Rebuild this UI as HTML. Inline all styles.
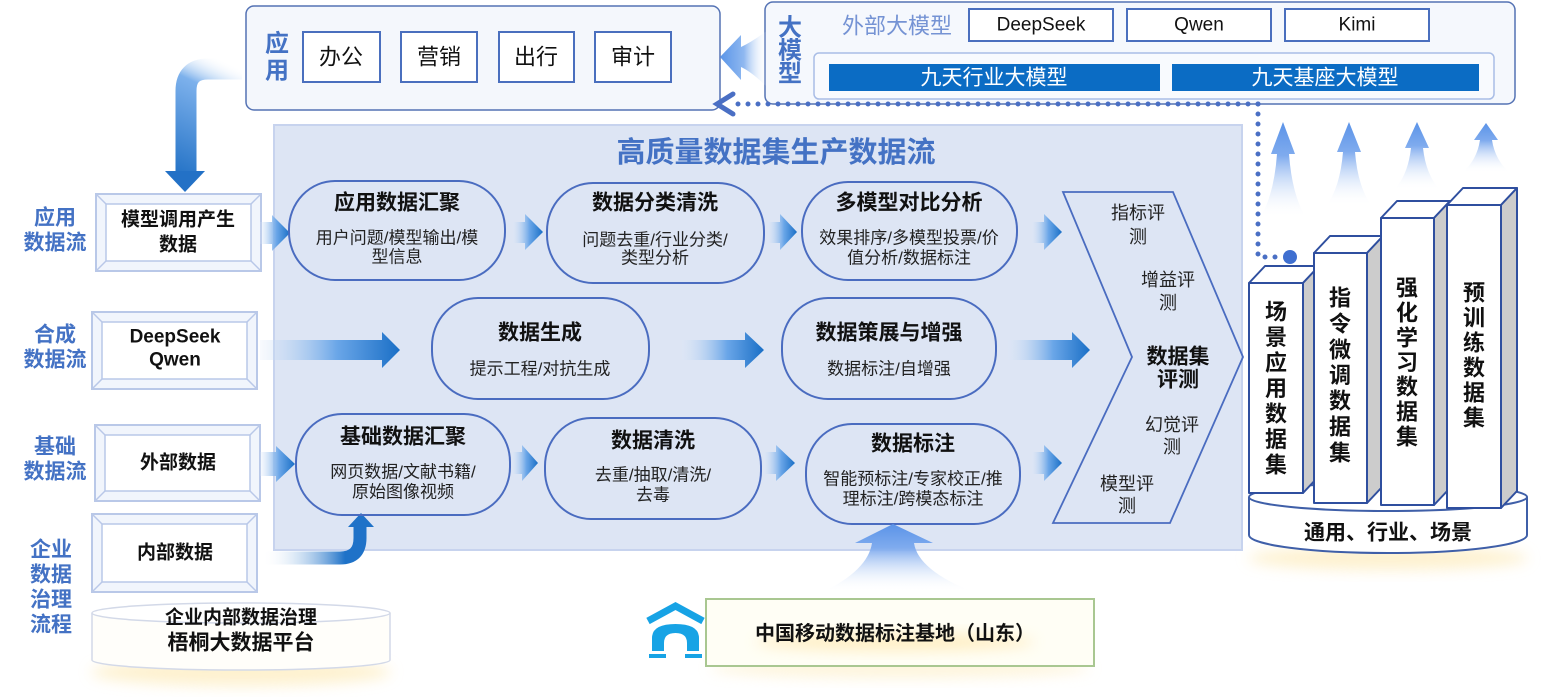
<!DOCTYPE html>
<html><head><meta charset="utf-8">
<style>
html,body{margin:0;padding:0;background:#fff;}
svg{display:block;font-family:"Liberation Sans","Noto Sans CJK SC","WenQuanYi Zen Hei",sans-serif;}
.t{text-anchor:middle;dominant-baseline:central;}
.lbl{font-size:21px;font-weight:bold;fill:#4472c4;}
.bx{font-size:19px;font-weight:bold;fill:#111;}
.pt{font-size:21px;font-weight:bold;fill:#111;}
.ps{font-size:17px;fill:#222;}
.cv{font-size:18px;fill:#222;}
</style></head>
<body>
<svg width="1545" height="697" viewBox="0 0 1545 697" xmlns="http://www.w3.org/2000/svg">
<defs>
  <linearGradient id="gR" x1="0" y1="0" x2="1" y2="0">
    <stop offset="0" stop-color="#dbe7f8" stop-opacity="0.2"/>
    <stop offset="0.55" stop-color="#6aa6e8"/>
    <stop offset="1" stop-color="#1a6fc6"/>
  </linearGradient>
  <linearGradient id="gU" x1="0" y1="0" x2="0" y2="1">
    <stop offset="0" stop-color="#5b93e8"/>
    <stop offset="0.35" stop-color="#7fabee"/>
    <stop offset="1" stop-color="#ffffff" stop-opacity="0"/>
  </linearGradient>
  <linearGradient id="gL" x1="0" y1="0" x2="1" y2="0">
    <stop offset="0" stop-color="#5a95e8"/>
    <stop offset="0.5" stop-color="#8fb8f0"/>
    <stop offset="1" stop-color="#ffffff" stop-opacity="0"/>
  </linearGradient>
  <linearGradient id="gTL" gradientUnits="userSpaceOnUse" x1="242" y1="69" x2="186" y2="185">
    <stop offset="0" stop-color="#ffffff" stop-opacity="0"/>
    <stop offset="0.25" stop-color="#7db1ec"/>
    <stop offset="1" stop-color="#1f6fc4"/>
  </linearGradient>
  <linearGradient id="gBL" gradientUnits="userSpaceOnUse" x1="262" y1="558" x2="345" y2="558">
    <stop offset="0" stop-color="#ffffff" stop-opacity="0"/>
    <stop offset="1" stop-color="#1f72c8"/>
  </linearGradient>
  <filter id="blur" x="-50%" y="-50%" width="200%" height="200%"><feGaussianBlur stdDeviation="7"/></filter>
</defs>

<rect width="1545" height="697" fill="#fff"/>

<!-- glows -->
<ellipse cx="241" cy="672" rx="150" ry="14" fill="#fde6a8" opacity="0.55" filter="url(#blur)"/>
<ellipse cx="1388" cy="558" rx="140" ry="12" fill="#fde6a8" opacity="0.55" filter="url(#blur)"/>
<ellipse cx="900" cy="668" rx="190" ry="10" fill="#fdeab8" opacity="0.5" filter="url(#blur)"/>

<!-- main panel -->
<rect x="274" y="125" width="968" height="425" fill="#dde5f4" stroke="#c7d3ee" stroke-width="2"/>
<text class="t" x="776" y="153" style="font-size:29px;font-weight:bold;fill:#4472c4;">高质量数据集生产数据流</text>

<!-- App box -->
<rect x="246" y="6" width="474" height="104" rx="8" fill="#f4f7fc" stroke="#5472b4" stroke-width="1.5"/>
<text class="t" x="277" y="44" style="font-size:24px;font-weight:bold;fill:#4472c4;">应</text>
<text class="t" x="277" y="71" style="font-size:24px;font-weight:bold;fill:#4472c4;">用</text>
<g fill="#fff" stroke="#4a6fbe" stroke-width="2">
  <rect x="303" y="32" width="77" height="50"/>
  <rect x="401" y="32" width="76" height="50"/>
  <rect x="499" y="32" width="75" height="50"/>
  <rect x="595" y="32" width="76" height="50"/>
</g>
<g style="font-size:22px;fill:#111;">
  <text class="t" x="341" y="57">办公</text>
  <text class="t" x="439" y="57">营销</text>
  <text class="t" x="536" y="57">出行</text>
  <text class="t" x="633" y="57">审计</text>
</g>

<!-- Big model box -->
<rect x="765" y="2" width="750" height="102" rx="8" fill="#f5f8fd" stroke="#5472b4" stroke-width="1.5"/>
<text class="t" x="790" y="28" style="font-size:24px;font-weight:bold;fill:#4472c4;">大</text>
<text class="t" x="790" y="51" style="font-size:24px;font-weight:bold;fill:#4472c4;">模</text>
<text class="t" x="790" y="74" style="font-size:24px;font-weight:bold;fill:#4472c4;">型</text>
<text class="t" x="897" y="26" style="font-size:22px;fill:#7593d4;">外部大模型</text>
<g fill="#fff" stroke="#4a6fbe" stroke-width="2">
  <rect x="969" y="9" width="144" height="32"/>
  <rect x="1127" y="9" width="144" height="32"/>
  <rect x="1285" y="9" width="144" height="32"/>
</g>
<g style="font-size:19px;fill:#111;">
  <text class="t" x="1041" y="25">DeepSeek</text>
  <text class="t" x="1199" y="25">Qwen</text>
  <text class="t" x="1357" y="25">Kimi</text>
</g>
<rect x="814" y="53" width="680" height="46" rx="5" fill="#f8fafe" stroke="#a9bde6" stroke-width="1.5"/>
<rect x="829" y="64" width="331" height="27" fill="#0b6cc4"/>
<rect x="1172" y="64" width="307" height="27" fill="#0b6cc4"/>
<text class="t" x="994" y="78" style="font-size:21px;fill:#fff;">九天行业大模型</text>
<text class="t" x="1325" y="78" style="font-size:21px;fill:#fff;">九天基座大模型</text>

<!-- big left arrow (model -> app) -->
<path d="M720 57 L741 35 L741 47 Q752 42 768 30 L768 88 Q752 72 741 67 L741 80 Z" fill="url(#gL)"/>

<!-- dotted connector -->
<g stroke="#4a6fc4" stroke-width="5" stroke-linecap="round" fill="none">
  <path d="M1258 104 H728" stroke-dasharray="0 10"/>
  <path d="M1258 104 V257 H1280" stroke-dasharray="0 10"/>
  <polyline points="733,94 717,104 733,114"/>
</g>
<circle cx="1290" cy="257" r="7" fill="#3f6fd0"/>

<!-- top-left curved arrow -->
<path d="M242 69 H208 Q186 69 186 91 V173" stroke="url(#gTL)" stroke-width="21" fill="none"/>
<polygon points="165,171 205,171 185,192" fill="#2371c6"/>

<!-- bottom-left curved arrow -->
<path d="M262 558 H340 Q360 558 360 538 V526" stroke="url(#gBL)" stroke-width="13" fill="none"/>
<polygon points="348,527 374,527 361,513" fill="#1f72c8"/>

<!-- left labels -->
<text class="t lbl" x="55" y="218">应用</text>
<text class="t lbl" x="55" y="243">数据流</text>
<text class="t lbl" x="55" y="335">合成</text>
<text class="t lbl" x="55" y="360">数据流</text>
<text class="t lbl" x="55" y="447">基础</text>
<text class="t lbl" x="55" y="472">数据流</text>
<text class="t lbl" x="51" y="550">企业</text>
<text class="t lbl" x="51" y="575">数据</text>
<text class="t lbl" x="51" y="600">治理</text>
<text class="t lbl" x="51" y="625">流程</text>

<!-- bevel boxes -->
<g stroke="#b9c8e8" fill="none">
  <rect x="96" y="194" width="165" height="77" fill="#f1f5fc" stroke-width="2"/>
  <rect x="106" y="204" width="145" height="57" fill="#fff" stroke-width="1.5"/>
  <path d="M96 194 L106 204 M261 194 L251 204 M96 271 L106 261 M261 271 L251 261" stroke-width="1.5"/>

  <rect x="92" y="312" width="165" height="77" fill="#f1f5fc" stroke-width="2"/>
  <rect x="102" y="322" width="145" height="57" fill="#fff" stroke-width="1.5"/>
  <path d="M92 312 L102 322 M257 312 L247 322 M92 389 L102 379 M257 389 L247 379" stroke-width="1.5"/>

  <rect x="95" y="425" width="165" height="76" fill="#f1f5fc" stroke-width="2"/>
  <rect x="105" y="435" width="145" height="56" fill="#fff" stroke-width="1.5"/>
  <path d="M95 425 L105 435 M260 425 L250 435 M95 501 L105 491 M260 501 L250 491" stroke-width="1.5"/>

  <rect x="92" y="514" width="165" height="78" fill="#f1f5fc" stroke-width="2"/>
  <rect x="102" y="524" width="145" height="58" fill="#fff" stroke-width="1.5"/>
  <path d="M92 514 L102 524 M257 514 L247 524 M92 592 L102 582 M257 592 L247 582" stroke-width="1.5"/>
</g>
<text class="t bx" x="178" y="220">模型调用产生</text>
<text class="t bx" x="178" y="245">数据</text>
<text class="t bx" x="175" y="337">DeepSeek</text>
<text class="t bx" x="175" y="360">Qwen</text>
<text class="t bx" x="178" y="463">外部数据</text>
<text class="t bx" x="175" y="553">内部数据</text>

<!-- small arrows -->
<g fill="url(#gR)">
  <path d="M260 222 H272 V215 L290 233 L272 251 V244 H260 Z"/>
  <path d="M513 222 H525 V214 L543 232 L525 250 V243 H513 Z"/>
  <path d="M768 222 H780 V214 L797 232 L780 250 V243 H768 Z"/>
  <path d="M1032 222 H1044 V214 L1062 232 L1044 250 V243 H1032 Z"/>

  <path d="M260 452 H276 V446 L295 464 L276 482 V476 H260 Z"/>
  <path d="M512 452 H522 V445 L538 463 L522 481 V474 H512 Z"/>
  <path d="M764 452 H776 V445 L795 463 L776 481 V474 H764 Z"/>
  <path d="M1032 452 H1044 V445 L1062 463 L1044 481 V474 H1032 Z"/>

  <path d="M260 340 H382 V332 L400 350 L382 368 V360 H260 Z"/>
  <path d="M682 340 H745 V332 L764 350 L745 368 V360 H682 Z"/>
  <path d="M1008 340 H1072 V332 L1090 350 L1072 368 V360 H1008 Z"/>
</g>

<!-- pills -->
<g fill="none" stroke="#4a6cc0" stroke-width="2">
  <rect x="289" y="181" width="216" height="99" rx="46" ry="48"/>
  <rect x="547" y="183" width="217" height="100" rx="46" ry="48"/>
  <rect x="802" y="182" width="215" height="98" rx="46" ry="48"/>
  <rect x="432" y="298" width="217" height="101" rx="46" ry="48"/>
  <rect x="782" y="298" width="214" height="101" rx="46" ry="48"/>
  <rect x="296" y="414" width="214" height="101" rx="46" ry="48"/>
  <rect x="545" y="418" width="216" height="101" rx="46" ry="48"/>
  <rect x="806" y="424" width="214" height="100" rx="46" ry="48"/>
</g>
<text class="t pt" x="397" y="203">应用数据汇聚</text>
<text class="t ps" x="397" y="238">用户问题/模型输出/模</text>
<text class="t ps" x="397" y="257">型信息</text>

<text class="t pt" x="655" y="203">数据分类清洗</text>
<text class="t ps" x="655" y="240">问题去重/行业分类/</text>
<text class="t ps" x="655" y="258">类型分析</text>

<text class="t pt" x="909" y="203">多模型对比分析</text>
<text class="t ps" x="909" y="238">效果排序/多模型投票/价</text>
<text class="t ps" x="909" y="258">值分析/数据标注</text>

<text class="t pt" x="540" y="333">数据生成</text>
<text class="t ps" x="540" y="369">提示工程/对抗生成</text>

<text class="t pt" x="889" y="333">数据策展与增强</text>
<text class="t ps" x="889" y="369">数据标注/自增强</text>

<text class="t pt" x="403" y="437">基础数据汇聚</text>
<text class="t ps" x="403" y="472">网页数据/文献书籍/</text>
<text class="t ps" x="403" y="492">原始图像视频</text>

<text class="t pt" x="653" y="441">数据清洗</text>
<text class="t ps" x="653" y="475">去重/抽取/清洗/</text>
<text class="t ps" x="653" y="495">去毒</text>

<text class="t pt" x="913" y="444">数据标注</text>
<text class="t ps" x="913" y="479">智能预标注/专家校正/推</text>
<text class="t ps" x="913" y="499">理标注/跨模态标注</text>

<!-- chevron -->
<polygon points="1063,192 1173,192 1243,357 1170,523 1053,523 1132,357" fill="none" stroke="#4a6cc0" stroke-width="1.8"/>
<text class="t cv" x="1138" y="213">指标评</text>
<text class="t cv" x="1138" y="237">测</text>
<text class="t cv" x="1168" y="280">增益评</text>
<text class="t cv" x="1168" y="303">测</text>
<text class="t" x="1178" y="357" style="font-size:21px;font-weight:bold;fill:#111;">数据集</text>
<text class="t" x="1178" y="380" style="font-size:21px;font-weight:bold;fill:#111;">评测</text>
<text class="t cv" x="1172" y="425">幻觉评</text>
<text class="t cv" x="1172" y="447">测</text>
<text class="t cv" x="1127" y="484">模型评</text>
<text class="t cv" x="1127" y="506">测</text>

<!-- annotation up arrow -->
<path d="M893 524 L933 543 L914 543 Q918 570 973 592 L823 592 Q868 570 872 543 L855 543 Z" fill="url(#gU)"/>

<!-- up arrows right -->
<g fill="url(#gU)">
  <path d="M1283 122 L1295 154 L1289 154 Q1292 195 1306 218 L1260 218 Q1274 195 1277 154 L1271 154 Z"/>
  <path d="M1349 122 L1361 152 L1355 152 Q1358 188 1372 206 L1326 206 Q1340 188 1343 152 L1337 152 Z"/>
  <path d="M1417 122 L1429 148 L1423 148 Q1426 175 1440 190 L1394 190 Q1408 175 1411 148 L1405 148 Z"/>
  <path d="M1486 123 L1498 140 L1492 140 Q1495 160 1510 173 L1462 173 Q1477 160 1480 140 L1474 140 Z"/>
</g>

<!-- right cylinder -->
<path d="M1249 497 V535 A139 18 0 0 0 1527 535 V497" fill="#fff" stroke="#3f5fa8" stroke-width="2"/>
<ellipse cx="1388" cy="497" rx="139" ry="14" fill="#fff" stroke="#3f5fa8" stroke-width="2"/>

<!-- bars -->
<g stroke="#2f4f9f" stroke-width="2" stroke-linejoin="round">
  <polygon points="1249,283 1265,266 1319,266 1303,283" fill="#fff"/>
  <polygon points="1303,283 1319,266 1319,476 1303,493" fill="#cccccc"/>
  <rect x="1249" y="283" width="54" height="210" fill="#fff"/>

  <polygon points="1314,253 1330,236 1383,236 1367,253" fill="#fff"/>
  <polygon points="1367,253 1383,236 1383,486 1367,503" fill="#cccccc"/>
  <rect x="1314" y="253" width="53" height="250" fill="#fff"/>

  <polygon points="1381,218 1397,201 1450,201 1434,218" fill="#fff"/>
  <polygon points="1434,218 1450,201 1450,488 1434,505" fill="#cccccc"/>
  <rect x="1381" y="218" width="53" height="287" fill="#fff"/>

  <polygon points="1447,205 1463,188 1517,188 1501,205" fill="#fff"/>
  <polygon points="1501,205 1517,188 1517,491 1501,508" fill="#cccccc"/>
  <rect x="1447" y="205" width="54" height="303" fill="#fff"/>
</g>
<g style="font-size:22px;font-weight:bold;fill:#111;">
  <text class="t" x="1276" y="312">场</text><text class="t" x="1276" y="337.5">景</text><text class="t" x="1276" y="363">应</text><text class="t" x="1276" y="388.5">用</text><text class="t" x="1276" y="414">数</text><text class="t" x="1276" y="439.5">据</text><text class="t" x="1276" y="465">集</text>
  <text class="t" x="1340" y="298">指</text><text class="t" x="1340" y="324">令</text><text class="t" x="1340" y="350">微</text><text class="t" x="1340" y="375.5">调</text><text class="t" x="1340" y="401">数</text><text class="t" x="1340" y="427">据</text><text class="t" x="1340" y="453">集</text>
  <text class="t" x="1407" y="288">强</text><text class="t" x="1407" y="313">化</text><text class="t" x="1407" y="338">学</text><text class="t" x="1407" y="362.5">习</text><text class="t" x="1407" y="387">数</text><text class="t" x="1407" y="412">据</text><text class="t" x="1407" y="437">集</text>
  <text class="t" x="1474" y="293">预</text><text class="t" x="1474" y="318">训</text><text class="t" x="1474" y="343">练</text><text class="t" x="1474" y="368">数</text><text class="t" x="1474" y="393">据</text><text class="t" x="1474" y="418">集</text>
</g>
<text class="t" x="1388" y="533" style="font-size:21px;font-weight:bold;fill:#111;">通用、行业、场景</text>

<!-- left bottom cylinder -->
<path d="M92 613 V660 A149 10 0 0 0 390 660 V613" fill="#fffefa" stroke="#d3d9e8" stroke-width="1.5"/>
<ellipse cx="241" cy="613" rx="149" ry="10" fill="#fff" stroke="#d3d9e8" stroke-width="1.5"/>
<text class="t" x="241" y="618" style="font-size:19px;font-weight:bold;fill:#111;">企业内部数据治理</text>
<text class="t" x="241" y="643" style="font-size:21px;font-weight:bold;fill:#111;">梧桐大数据平台</text>

<!-- house icon -->
<g fill="#17a3e5">
  <polyline points="648,621 675.5,606 703,621" fill="none" stroke="#17a3e5" stroke-width="7"/>
  <path d="M652 651 V638 Q652 624 675.5 624 Q699 624 699 638 V651 H687 V643 Q687 633 675.5 633 Q664 633 664 643 V651 Z"/>
  <rect x="649" y="654" width="17" height="4"/>
  <rect x="685" y="654" width="17" height="4"/>
</g>

<!-- annotation base box -->
<rect x="706" y="599" width="388" height="67" fill="#fffef5" stroke="#a9c791" stroke-width="2"/>
<ellipse cx="895" cy="642" rx="140" ry="9" fill="#ffdd8a" opacity="0.45" filter="url(#blur)"/>
<text class="t" x="895" y="634" style="font-size:20px;font-weight:bold;fill:#111;">中国移动数据标注基地（山东）</text>
</svg>
</body></html>
